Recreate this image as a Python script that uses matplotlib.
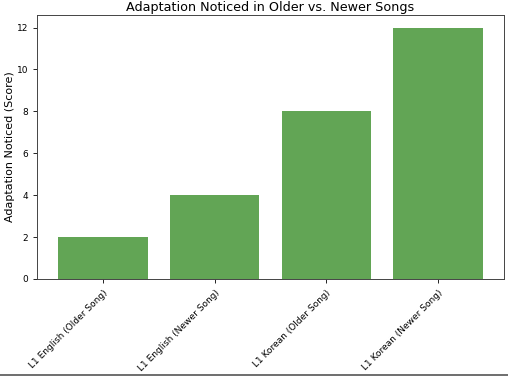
import matplotlib.pyplot as plt
from matplotlib.lines import Line2D

categories = ['L1 English (Older Song)', 'L1 English (Newer Song)',
              'L1 Korean (Older Song)', 'L1 Korean (Newer Song)']
scores = [2, 4, 8, 12]

fig = plt.figure(figsize=(5.08, 3.76), dpi=100)
ax = fig.add_axes([37 / 508, 1 - 279 / 376, 467 / 508, 264 / 376])

ax.bar(categories, scores, color='#62a555', width=0.8)

ax.set_title('Adaptation Noticed in Older vs. Newer Songs', fontsize=9.2, pad=3)
ax.set_ylabel('Adaptation Noticed (Score)', fontsize=8, labelpad=1)
ax.tick_params(axis='both', labelsize=6.5, length=3, width=0.6)
plt.setp(ax.get_xticklabels(), rotation=45, ha='right', rotation_mode='anchor')
for s in ax.spines.values():
    s.set_linewidth(0.7)
    s.set_color('#444444')

# bottom frame line of the screenshot
fig.add_artist(Line2D([0, 1], [1.5 / 376, 1.5 / 376], color='#555555', lw=1.2))

fig.savefig('out.png', dpi=100)
